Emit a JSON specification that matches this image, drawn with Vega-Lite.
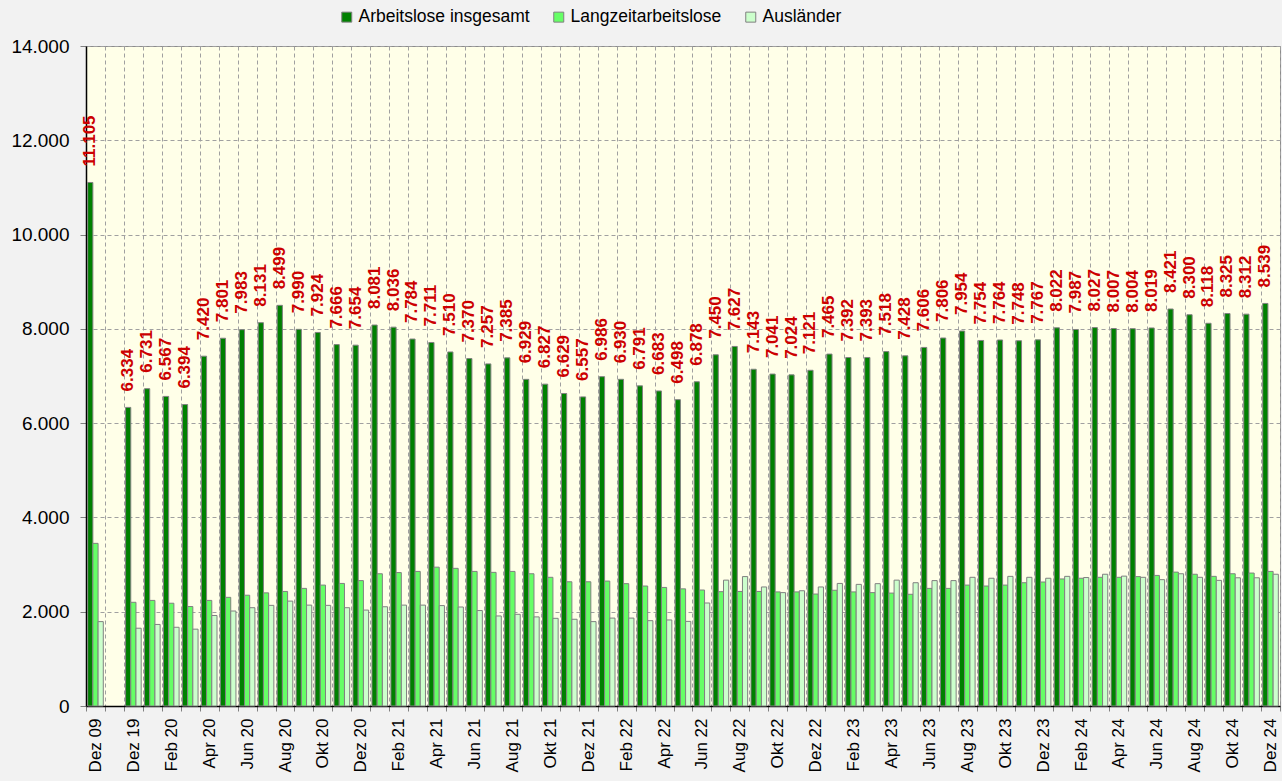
{
  "$schema": "https://vega.github.io/schema/vega-lite/v6.json",
  "width": 1194,
  "height": 660,
  "autosize": {"type": "none"},
  "padding": {"left": 86, "top": 46, "right": 2, "bottom": 75},
  "background": "#F2F2F2",
  "config": {
    "locale": {"number": {"decimal": ",", "thousands": ".", "grouping": [3], "currency": ["", " €"]}},
    "font": "Liberation Sans",
    "view": {"fill": "#FFFFE8", "stroke": "#8C8C8C"}
  },
  "data": {"values": [
    {"Monat": "Dez 09", "Arbeitslose insgesamt": 11105, "Langzeitarbeitslose": 3450, "Ausländer": 1790},
    {"Monat": "Dez 19", "Arbeitslose insgesamt": 6334, "Langzeitarbeitslose": 2200, "Ausländer": 1650},
    {"Monat": "Jan 20", "Arbeitslose insgesamt": 6731, "Langzeitarbeitslose": 2240, "Ausländer": 1730},
    {"Monat": "Feb 20", "Arbeitslose insgesamt": 6567, "Langzeitarbeitslose": 2180, "Ausländer": 1670},
    {"Monat": "Mär 20", "Arbeitslose insgesamt": 6394, "Langzeitarbeitslose": 2110, "Ausländer": 1630},
    {"Monat": "Apr 20", "Arbeitslose insgesamt": 7420, "Langzeitarbeitslose": 2240, "Ausländer": 1920},
    {"Monat": "Mai 20", "Arbeitslose insgesamt": 7801, "Langzeitarbeitslose": 2305, "Ausländer": 2015},
    {"Monat": "Jun 20", "Arbeitslose insgesamt": 7983, "Langzeitarbeitslose": 2350, "Ausländer": 2085},
    {"Monat": "Jul 20", "Arbeitslose insgesamt": 8131, "Langzeitarbeitslose": 2400, "Ausländer": 2135},
    {"Monat": "Aug 20", "Arbeitslose insgesamt": 8499, "Langzeitarbeitslose": 2430, "Ausländer": 2225},
    {"Monat": "Sep 20", "Arbeitslose insgesamt": 7990, "Langzeitarbeitslose": 2495, "Ausländer": 2140},
    {"Monat": "Okt 20", "Arbeitslose insgesamt": 7924, "Langzeitarbeitslose": 2565, "Ausländer": 2135},
    {"Monat": "Nov 20", "Arbeitslose insgesamt": 7666, "Langzeitarbeitslose": 2600, "Ausländer": 2085},
    {"Monat": "Dez 20", "Arbeitslose insgesamt": 7654, "Langzeitarbeitslose": 2660, "Ausländer": 2035},
    {"Monat": "Jan 21", "Arbeitslose insgesamt": 8081, "Langzeitarbeitslose": 2805, "Ausländer": 2105},
    {"Monat": "Feb 21", "Arbeitslose insgesamt": 8036, "Langzeitarbeitslose": 2830, "Ausländer": 2140},
    {"Monat": "Mär 21", "Arbeitslose insgesamt": 7784, "Langzeitarbeitslose": 2855, "Ausländer": 2140},
    {"Monat": "Apr 21", "Arbeitslose insgesamt": 7711, "Langzeitarbeitslose": 2945, "Ausländer": 2130},
    {"Monat": "Mai 21", "Arbeitslose insgesamt": 7510, "Langzeitarbeitslose": 2920, "Ausländer": 2100},
    {"Monat": "Jun 21", "Arbeitslose insgesamt": 7370, "Langzeitarbeitslose": 2855, "Ausländer": 2025},
    {"Monat": "Jul 21", "Arbeitslose insgesamt": 7257, "Langzeitarbeitslose": 2835, "Ausländer": 1910},
    {"Monat": "Aug 21", "Arbeitslose insgesamt": 7385, "Langzeitarbeitslose": 2855, "Ausländer": 1945},
    {"Monat": "Sep 21", "Arbeitslose insgesamt": 6929, "Langzeitarbeitslose": 2805, "Ausländer": 1890},
    {"Monat": "Okt 21", "Arbeitslose insgesamt": 6827, "Langzeitarbeitslose": 2730, "Ausländer": 1860},
    {"Monat": "Nov 21", "Arbeitslose insgesamt": 6629, "Langzeitarbeitslose": 2635, "Ausländer": 1840},
    {"Monat": "Dez 21", "Arbeitslose insgesamt": 6557, "Langzeitarbeitslose": 2635, "Ausländer": 1790},
    {"Monat": "Jan 22", "Arbeitslose insgesamt": 6986, "Langzeitarbeitslose": 2650, "Ausländer": 1865},
    {"Monat": "Feb 22", "Arbeitslose insgesamt": 6930, "Langzeitarbeitslose": 2595, "Ausländer": 1865},
    {"Monat": "Mär 22", "Arbeitslose insgesamt": 6791, "Langzeitarbeitslose": 2545, "Ausländer": 1810},
    {"Monat": "Apr 22", "Arbeitslose insgesamt": 6683, "Langzeitarbeitslose": 2515, "Ausländer": 1825},
    {"Monat": "Mai 22", "Arbeitslose insgesamt": 6498, "Langzeitarbeitslose": 2485, "Ausländer": 1795},
    {"Monat": "Jun 22", "Arbeitslose insgesamt": 6878, "Langzeitarbeitslose": 2460, "Ausländer": 2185},
    {"Monat": "Jul 22", "Arbeitslose insgesamt": 7450, "Langzeitarbeitslose": 2425, "Ausländer": 2670},
    {"Monat": "Aug 22", "Arbeitslose insgesamt": 7627, "Langzeitarbeitslose": 2430, "Ausländer": 2745},
    {"Monat": "Sep 22", "Arbeitslose insgesamt": 7143, "Langzeitarbeitslose": 2430, "Ausländer": 2525},
    {"Monat": "Okt 22", "Arbeitslose insgesamt": 7041, "Langzeitarbeitslose": 2420, "Ausländer": 2405},
    {"Monat": "Nov 22", "Arbeitslose insgesamt": 7024, "Langzeitarbeitslose": 2420, "Ausländer": 2445},
    {"Monat": "Dez 22", "Arbeitslose insgesamt": 7121, "Langzeitarbeitslose": 2375, "Ausländer": 2525},
    {"Monat": "Jan 23", "Arbeitslose insgesamt": 7465, "Langzeitarbeitslose": 2455, "Ausländer": 2600},
    {"Monat": "Feb 23", "Arbeitslose insgesamt": 7392, "Langzeitarbeitslose": 2420, "Ausländer": 2580},
    {"Monat": "Mär 23", "Arbeitslose insgesamt": 7393, "Langzeitarbeitslose": 2405, "Ausländer": 2595},
    {"Monat": "Apr 23", "Arbeitslose insgesamt": 7518, "Langzeitarbeitslose": 2395, "Ausländer": 2670},
    {"Monat": "Mai 23", "Arbeitslose insgesamt": 7428, "Langzeitarbeitslose": 2370, "Ausländer": 2615},
    {"Monat": "Jun 23", "Arbeitslose insgesamt": 7606, "Langzeitarbeitslose": 2495, "Ausländer": 2660},
    {"Monat": "Jul 23", "Arbeitslose insgesamt": 7806, "Langzeitarbeitslose": 2495, "Ausländer": 2660},
    {"Monat": "Aug 23", "Arbeitslose insgesamt": 7954, "Langzeitarbeitslose": 2565, "Ausländer": 2730},
    {"Monat": "Sep 23", "Arbeitslose insgesamt": 7754, "Langzeitarbeitslose": 2545, "Ausländer": 2710},
    {"Monat": "Okt 23", "Arbeitslose insgesamt": 7764, "Langzeitarbeitslose": 2565, "Ausländer": 2750},
    {"Monat": "Nov 23", "Arbeitslose insgesamt": 7748, "Langzeitarbeitslose": 2615, "Ausländer": 2730},
    {"Monat": "Dez 23", "Arbeitslose insgesamt": 7767, "Langzeitarbeitslose": 2630, "Ausländer": 2710},
    {"Monat": "Jan 24", "Arbeitslose insgesamt": 8022, "Langzeitarbeitslose": 2695, "Ausländer": 2750},
    {"Monat": "Feb 24", "Arbeitslose insgesamt": 7987, "Langzeitarbeitslose": 2710, "Ausländer": 2725},
    {"Monat": "Mär 24", "Arbeitslose insgesamt": 8027, "Langzeitarbeitslose": 2730, "Ausländer": 2795},
    {"Monat": "Apr 24", "Arbeitslose insgesamt": 8007, "Langzeitarbeitslose": 2730, "Ausländer": 2755},
    {"Monat": "Mai 24", "Arbeitslose insgesamt": 8004, "Langzeitarbeitslose": 2745, "Ausländer": 2730},
    {"Monat": "Jun 24", "Arbeitslose insgesamt": 8019, "Langzeitarbeitslose": 2770, "Ausländer": 2680},
    {"Monat": "Jul 24", "Arbeitslose insgesamt": 8421, "Langzeitarbeitslose": 2840, "Ausländer": 2805},
    {"Monat": "Aug 24", "Arbeitslose insgesamt": 8300, "Langzeitarbeitslose": 2795, "Ausländer": 2730},
    {"Monat": "Sep 24", "Arbeitslose insgesamt": 8118, "Langzeitarbeitslose": 2750, "Ausländer": 2665},
    {"Monat": "Okt 24", "Arbeitslose insgesamt": 8325, "Langzeitarbeitslose": 2805, "Ausländer": 2720},
    {"Monat": "Nov 24", "Arbeitslose insgesamt": 8312, "Langzeitarbeitslose": 2820, "Ausländer": 2720},
    {"Monat": "Dez 24", "Arbeitslose insgesamt": 8539, "Langzeitarbeitslose": 2855, "Ausländer": 2795}
  ]},
  "transform": [
    {"fold": ["Arbeitslose insgesamt", "Langzeitarbeitslose", "Ausländer"], "as": ["Reihe", "Wert"]}
  ],
  "encoding": {
    "x": {
      "field": "Monat",
      "type": "nominal",
      "sort": null,
      "scale": {
        "domain": ["Dez 09", " ", "Dez 19", "Jan 20", "Feb 20", "Mär 20", "Apr 20", "Mai 20", "Jun 20", "Jul 20", "Aug 20", "Sep 20", "Okt 20", "Nov 20", "Dez 20", "Jan 21", "Feb 21", "Mär 21", "Apr 21", "Mai 21", "Jun 21", "Jul 21", "Aug 21", "Sep 21", "Okt 21", "Nov 21", "Dez 21", "Jan 22", "Feb 22", "Mär 22", "Apr 22", "Mai 22", "Jun 22", "Jul 22", "Aug 22", "Sep 22", "Okt 22", "Nov 22", "Dez 22", "Jan 23", "Feb 23", "Mär 23", "Apr 23", "Mai 23", "Jun 23", "Jul 23", "Aug 23", "Sep 23", "Okt 23", "Nov 23", "Dez 23", "Jan 24", "Feb 24", "Mär 24", "Apr 24", "Mai 24", "Jun 24", "Jul 24", "Aug 24", "Sep 24", "Okt 24", "Nov 24", "Dez 24"],
        "paddingInner": 0,
        "paddingOuter": 0
      },
      "axis": {
        "title": null,
        "labelAngle": -90,
        "labelFontSize": 17,
        "labelColor": "#000000",
        "labelPadding": 7,
        "labelOverlap": false,
        "labelExpr": "test(/^(Dez|Feb|Apr|Jun|Aug|Okt) /, datum.label) ? datum.label : ''",
        "tickBand": "extent",
        "tickSize": 5,
        "tickColor": "#808080",
        "grid": true,
        "gridColor": "#A0A0A0",
        "gridDash": [4, 3],
        "domainColor": "#000000",
        "domainWidth": 1.5
      }
    },
    "xOffset": {
      "field": "Reihe",
      "type": "nominal",
      "scale": {"domain": ["Arbeitslose insgesamt", "Langzeitarbeitslose", "Ausländer"], "paddingInner": 0, "paddingOuter": 0.32}
    },
    "y": {
      "field": "Wert",
      "type": "quantitative",
      "scale": {"domain": [0, 14000], "nice": false},
      "axis": {
        "title": null,
        "values": [0, 2000, 4000, 6000, 8000, 10000, 12000, 14000],
        "format": ",d",
        "labelFontSize": 19,
        "labelColor": "#000000",
        "labelPadding": 11,
        "tickSize": 6,
        "tickColor": "#808080",
        "gridColor": "#A0A0A0",
        "gridDash": [4, 3],
        "domainColor": "#000000",
        "domainWidth": 1.5
      }
    }
  },
  "layer": [
    {
      "mark": {"type": "bar", "stroke": "#808080", "strokeWidth": 1},
      "encoding": {
        "fill": {
          "field": "Reihe",
          "type": "nominal",
          "scale": {"domain": ["Arbeitslose insgesamt", "Langzeitarbeitslose", "Ausländer"], "range": ["#008000", "#66FF66", "#CCFFCC"]},
          "legend": {
            "title": null,
            "orient": "none",
            "direction": "horizontal",
            "legendX": 252,
            "legendY": -38,
            "labelFontSize": 17.5,
            "labelLimit": 0,
            "labelColor": "#000000",
            "labelOffset": 3,
            "columnPadding": 20,
            "symbolType": "square",
            "symbolSize": 100,
            "symbolStrokeColor": "#808080",
            "symbolStrokeWidth": 1
          }
        }
      }
    },
    {
      "transform": [{"filter": "datum.Reihe === 'Arbeitslose insgesamt'"}],
      "mark": {"type": "text", "angle": 270, "align": "left", "baseline": "middle", "dx": 16, "color": "#CC0000", "fontWeight": "bold", "fontSize": 17},
      "encoding": {
        "text": {"field": "Wert", "type": "quantitative", "format": ",d"}
      }
    }
  ]
}
